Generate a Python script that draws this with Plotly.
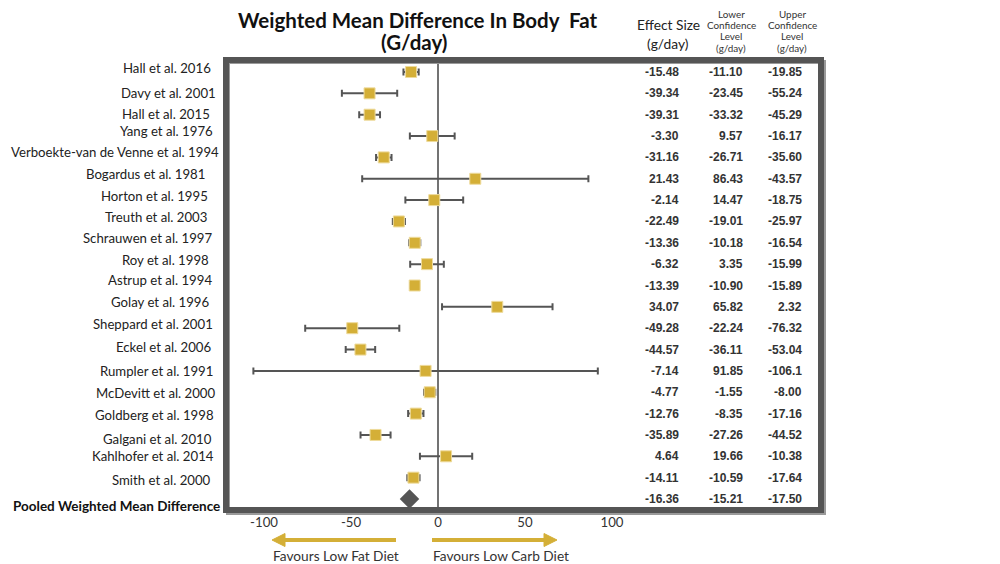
import plotly.graph_objects as go

# ---------------- data ----------------
studies = ["Hall et al. 2016", "Davy et al. 2001", "Hall et al. 2015", "Yang et al. 1976",
           "Verboekte-van de Venne et al. 1994", "Bogardus et al. 1981", "Horton et al. 1995",
           "Treuth et al. 2003", "Schrauwen et al. 1997", "Roy et al. 1998", "Astrup et al. 1994",
           "Golay et al. 1996", "Sheppard et al. 2001", "Eckel et al. 2006", "Rumpler et al. 1991",
           "McDevitt et al. 2000", "Goldberg et al. 1998", "Galgani et al. 2010",
           "Kahlhofer et al. 2014", "Smith et al. 2000"]
effect = [-15.48, -39.34, -39.31, -3.30, -31.16, 21.43, -2.14, -22.49, -13.36, -6.32,
          -13.39, 34.07, -49.28, -44.57, -7.14, -4.77, -12.76, -35.89, 4.64, -14.11]
lower_cl = [-11.10, -23.45, -33.32, 9.57, -26.71, 86.43, 14.47, -19.01, -10.18, 3.35,
            -10.90, 65.82, -22.24, -36.11, 91.85, -1.55, -8.35, -27.26, 19.66, -10.59]
upper_cl = [-19.85, -55.24, -45.29, -16.17, -35.60, -43.57, -18.75, -25.97, -16.54, -15.99,
            -15.89, 2.32, -76.32, -53.04, -106.1, -8.00, -17.16, -44.52, -10.38, -17.64]
pooled_label = "Pooled Weighted Mean Difference"
pooled_effect = -16.36
pooled_lower = -15.21
pooled_upper = -17.50
x_tickvals = [-100, -50, 0, 50, 100]
x_ticktext = ["-100", "-50", "0", "50", "100"]

# ---------------- layout geometry (pixels, in screenshot coordinates) ----------------
OFF = 8                      # default page margin of the html body
W, H = 1000 - OFF, 564 - OFF  # figure size so the page fits the window
L, R, T, B = 229, 818, 63, 507
ZERO_PX, PX_PER_UNIT = 438, 1.74
ROW0_PX, ROW_STEP = 72, 21.35


def px_x(p):
    return (p - L) / (R - L)


def px_y(p):
    return (B - p) / (B - T)


n = len(studies)
rows = list(range(n))
pooled_row = n

GOLD = "#D4AF37"
GREY = "#555555"
TXT = "#222222"

plus = [max(a, b) - e for e, a, b in zip(effect, lower_cl, upper_cl)]
minus = [e - min(a, b) for e, a, b in zip(effect, lower_cl, upper_cl)]

fig = go.Figure()
fig.add_trace(go.Scatter(
    x=effect, y=rows, mode="markers",
    marker=dict(symbol="square", size=11, color=GOLD, line=dict(color="#EEDB9C", width=1)),
    error_x=dict(type="data", symmetric=False, array=plus, arrayminus=minus,
                 color=GREY, thickness=2, width=3.5),
    showlegend=False, hoverinfo="x+y"))
fig.add_trace(go.Scatter(
    x=[pooled_effect], y=[pooled_row], mode="markers",
    marker=dict(symbol="diamond", size=15, color=GREY),
    showlegend=False))

x_range = [(L - ZERO_PX) / PX_PER_UNIT, (R - ZERO_PX) / PX_PER_UNIT]
y_top = 0 - (ROW0_PX - T) / ROW_STEP
y_bot = pooled_row + (B - (ROW0_PX + ROW_STEP * pooled_row)) / ROW_STEP

annotations = []
# study labels (hand-placed to follow the reference)
label_y_px = [68, 93, 114, 131, 152, 174, 196, 217, 238, 260, 280, 302, 324, 347, 371, 393, 415, 439, 456, 480]
label_x_px = [213, 218, 212, 215, 221, 207, 210, 209, 214, 211, 214, 212, 215, 213, 215, 217, 216, 214, 216, 213]
for s, yx, xx in zip(studies, label_y_px, label_x_px):
    annotations.append(dict(text=s, x=px_x(xx), y=px_y(yx), xref="paper", yref="paper",
                            xanchor="right", yanchor="middle", showarrow=False,
                            font=dict(family="Lato", size=13.2, color=TXT)))
annotations.append(dict(text="<b>" + pooled_label + "</b>", x=px_x(222), y=px_y(506),
                        xref="paper", yref="paper", xanchor="right", yanchor="middle",
                        showarrow=False, font=dict(family="Lato", size=13.5, color="#111111")))


def fmt(v):
    return f"{v:.1f}" if abs(v) >= 100 else f"{v:.2f}"


col_right_px = [681, 745, 804]
all_eff = effect + [pooled_effect]
all_low = lower_cl + [pooled_lower]
all_up = upper_cl + [pooled_upper]
for i in range(n + 1):
    for cx, vals in zip(col_right_px, [all_eff, all_low, all_up]):
        annotations.append(dict(text=fmt(vals[i]), x=px_x(cx), y=i, xref="paper", yref="y",
                                xanchor="right", yanchor="middle", showarrow=False,
                                font=dict(family="Liberation Sans", size=12, color="#333333",
                                          weight="bold")))

# headers
hdr = [
    dict(text="Effect Size", x=px_x(668), y=px_y(25), font=dict(family="Lato", size=13.8, color=TXT)),
    dict(text="(g/day)", x=px_x(668), y=px_y(43), font=dict(family="Lato", size=13.8, color=TXT)),
]
for cx, word in [(731, "Lower"), (792, "Upper")]:
    for yy, t in zip([14, 25, 36, 48], [word, "Confidence", "Level", "(g/day)"]):
        hdr.append(dict(text=t, x=px_x(cx), y=px_y(yy),
                        font=dict(family="Lato", size=9.9, color="#333333")))
for a in hdr:
    a.update(xref="paper", yref="paper", xanchor="center", yanchor="middle", showarrow=False)
annotations += hdr

# title
annotations += [
    dict(text="<b>Weighted Mean Difference In Body  Fat</b>", x=px_x(417), y=px_y(20),
         xref="paper", yref="paper", xanchor="center", yanchor="middle", showarrow=False,
         font=dict(family="Lato", size=20.5, color="#111111")),
    dict(text="<b>(G/day)</b>", x=px_x(414), y=px_y(42),
         xref="paper", yref="paper", xanchor="center", yanchor="middle", showarrow=False,
         font=dict(family="Lato", size=20.5, color="#111111")),
]
# arrow captions
annotations += [
    dict(text="Favours Low Fat Diet", x=px_x(271), y=px_y(555), xref="paper", yref="paper",
         xanchor="left", yanchor="middle", showarrow=False,
         font=dict(family="Lato", size=13.7, color="#333333")),
    dict(text="Favours Low Carb Diet", x=px_x(431), y=px_y(555), xref="paper", yref="paper",
         xanchor="left", yanchor="middle", showarrow=False,
         font=dict(family="Lato", size=13.7, color="#333333")),
]

shapes = [
    # zero line
    dict(type="line", xref="x", yref="paper", x0=0, x1=0, y0=0, y1=1,
         line=dict(color="#444444", width=1.5), layer="below"),
    # frame shadow
    dict(type="rect", xref="paper", yref="paper", x0=px_x(228), x1=px_x(824), y0=px_y(62), y1=px_y(513),
         line=dict(color="#9a9a9a", width=4), layer="above"),
    # frame
    dict(type="rect", xref="paper", yref="paper", x0=px_x(226), x1=px_x(821), y0=px_y(60), y1=px_y(510),
         line=dict(color=GREY, width=6), layer="above"),
    # arrows
    dict(type="line", xref="paper", yref="paper", x0=px_x(396), x1=px_x(283), y0=px_y(540), y1=px_y(540),
         line=dict(color=GOLD, width=4)),
    dict(type="path", xref="paper", yref="paper",
         path=f"M {px_x(272)} {px_y(540)} L {px_x(285)} {px_y(533.5)} L {px_x(285)} {px_y(546.5)} Z",
         fillcolor=GOLD, line=dict(color=GOLD, width=1)),
    dict(type="line", xref="paper", yref="paper", x0=px_x(432), x1=px_x(546), y0=px_y(540), y1=px_y(540),
         line=dict(color=GOLD, width=4)),
    dict(type="path", xref="paper", yref="paper",
         path=f"M {px_x(557)} {px_y(540)} L {px_x(544)} {px_y(533.5)} L {px_x(544)} {px_y(546.5)} Z",
         fillcolor=GOLD, line=dict(color=GOLD, width=1)),
]

fig.update_layout(
    width=W, height=H,
    margin=dict(l=L - OFF, r=W - (R - OFF), t=T - OFF, b=H - (B - OFF), pad=0),
    paper_bgcolor="white", plot_bgcolor="white",
    xaxis=dict(range=x_range, tickvals=x_tickvals, ticktext=x_ticktext, showgrid=False,
               zeroline=False, showline=False, ticks="", ticklabelstandoff=6,
               tickfont=dict(family="Lato", size=13.2, color="#333333"), automargin=False,
               fixedrange=True),
    yaxis=dict(range=[y_bot, y_top], showticklabels=False, showgrid=False, zeroline=False,
               showline=False, ticks="", automargin=False, fixedrange=True),
    annotations=annotations, shapes=shapes,
)

fig.write_html("out.html")
